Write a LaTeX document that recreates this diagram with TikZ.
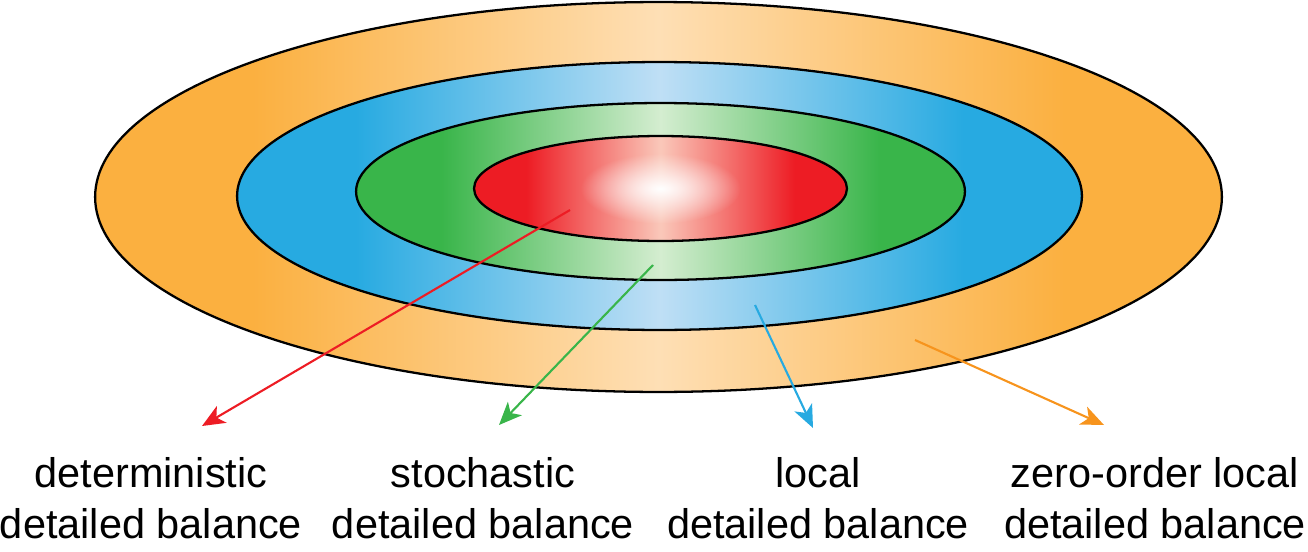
\documentclass[tikz,border=0pt]{standalone}
\usepackage{fontspec}
\setmainfont{Liberation Sans}
\usetikzlibrary{arrows.meta, shapes.geometric, fadings}
\definecolor{orsat}{HTML}{FBB040}
\definecolor{orlight}{HTML}{FEDFB5}
\definecolor{blsat}{HTML}{27AAE1}
\definecolor{bllight}{HTML}{BFDFF5}
\definecolor{grsat}{HTML}{39B54A}
\definecolor{grlight}{HTML}{D4EDD0}
\definecolor{rdsat}{HTML}{ED1C24}
\definecolor{rdlight}{HTML}{FAC8BA}
\definecolor{orarrow}{HTML}{F7941D}
\pgfdeclarehorizontalshading{zeroshade}{100bp}{color(0bp)=(orsat); color(32bp)=(orsat); color(50bp)=(orlight); color(68bp)=(orsat); color(100bp)=(orsat)}
\pgfdeclarehorizontalshading{locshade}{100bp}{color(0bp)=(blsat); color(32bp)=(blsat); color(50bp)=(bllight); color(68bp)=(blsat); color(100bp)=(blsat)}
\pgfdeclarehorizontalshading{stoshade}{100bp}{color(0bp)=(grsat); color(32bp)=(grsat); color(50bp)=(grlight); color(68bp)=(grsat); color(100bp)=(grsat)}
\pgfdeclarehorizontalshading{detshade}{100bp}{color(0bp)=(rdsat); color(32bp)=(rdsat); color(50bp)=(rdlight); color(68bp)=(rdsat); color(100bp)=(rdsat)}
\tikzfading[name=glow, inner color=transparent!0, outer color=transparent!100]

\begin{document}
\begin{tikzpicture}[x=0.02cm, y=-0.02cm,
		ring/.style={ellipse, draw=black, line width=1.3pt, inner sep=0pt},
		lbl/.style={align=center, font=\fontsize{23.6}{29}\selectfont, anchor=base},
		arr/.style={-{Stealth[length=13pt, width=11pt, inset=3.5pt]}, line width=1.2pt}
		]
		\useasboundingbox (0,0) rectangle (1308,551);
		
		% les ellipses
		\node[ring, shading=zeroshade, minimum width=22.54cm, minimum height=7.8cm] (zero) at (658.5,197) {};
		\node[ring, shading=locshade, minimum width=16.9cm, minimum height=5.36cm] (loc) at (659.5,196) {};
		\node[ring, shading=stoshade, minimum width=12.18cm, minimum height=3.54cm] (sto) at (660.5,191.5) {};
		\node[ring, shading=detshade, minimum width=7.46cm, minimum height=2.1cm] (det) at (660.5,188.5) {};
		\node[ellipse, fill=white, path fading=glow, inner sep=0pt,
		minimum width=3.2cm, minimum height=1.4cm] (glow) at (660.5,188.5) {};
		
		% les fleches
		\coordinate (detS) at (570,210);
		\coordinate (detT) at (202,426);
		\coordinate (stoS) at (653,265);
		\coordinate (stoT) at (499,425);
		\coordinate (locS) at (755,305);
		\coordinate (locT) at (813,428);
		\coordinate (zeroS) at (915,340);
		\coordinate (zeroT) at (1104,425);
		\foreach \a/\b/\c in {detS/detT/rdsat, stoS/stoT/grsat, locS/locT/blsat, zeroS/zeroT/orarrow}
		\draw[arr, \c] (\a) -- (\b);
		
		% les textes
		\node[lbl] (detL) at (151,538) {deterministic\\detailed balance};
		\node[lbl] (stoL) at (483,538) {stochastic\\detailed balance};
		\node[lbl] (locL) at (818,538) {local\\detailed balance};
		\node[lbl] (zeroL) at (1155,538) {zero-order local\\detailed balance};
	\end{tikzpicture}
\end{document}
